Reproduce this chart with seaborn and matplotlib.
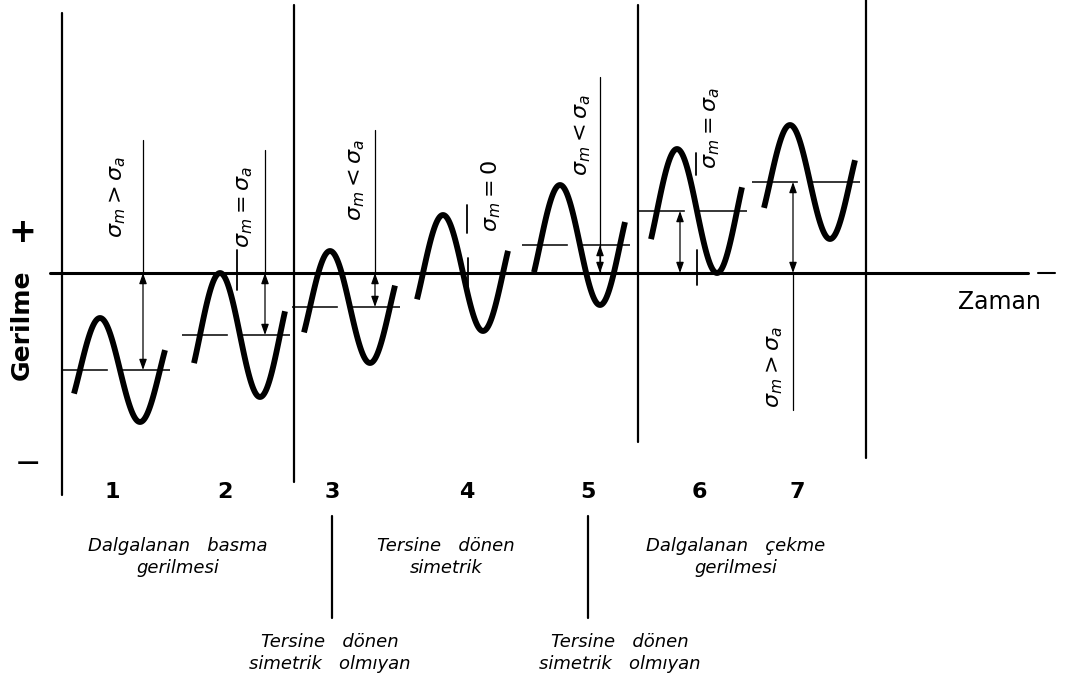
"""
Fluctuating stress cases (Gerilme - Zaman): seven sinusoidal load cycles
with their mean stress sigma_m and amplitude sigma_a.
"""
import matplotlib
matplotlib.use("Agg")
import matplotlib.pyplot as plt
import numpy as np
import pandas as pd
import seaborn as sns

sns.set_theme(style="white")
plt.rcParams["font.family"] = ["DejaVu Sans"]
plt.rcParams["mathtext.fontset"] = "dejavusans"
plt.rcParams["text.color"] = "black"

# ── data (time / stress in drawing units, stress 0 = time axis) ───────────────
case_no   = [1, 2, 3, 4, 5, 6, 7]
peak_t    = [100, 220, 330, 443, 560, 677, 790]   # time of the crest
sigma_m   = [-97, -62, -34, 0, 28, 62, 91]        # mean stress
sigma_a   = [52, 62, 56, 58, 60, 62, 57]          # stress amplitude
period    = 80

case_text = [r"$\sigma_m > \sigma_a$", r"$\sigma_m = \sigma_a$", r"$\sigma_m < \sigma_a$",
             r"$\sigma_m = 0$", r"$\sigma_m < \sigma_a$", r"$\sigma_m = \sigma_a$",
             r"$\sigma_m > \sigma_a$"]
text_t    = [118, 245, 357, 491, 583, 712, 775]
text_s    = [76, 66, 93, 77, 138, 145, -94]

arrow_t   = [143, 265, 375, None, 600, 680, 793]
guide_end = [133, 123, 143, None, 196, None, -137]

# short marks on some cycles
mark_t    = [237, 467, 468, 696, 697]
mark_lo   = [-17, 40, -27, 98, -12]
mark_hi   = [23, 68, 15, 120, 23]

# regime boundaries
divider_t   = [62, 294, 638, 866]
divider_top = [260, 268, 268, 273]
divider_bot = [-222, -209, -169, -185]

group_sep_t = [332, 588]

number_t   = [112, 225, 332, 467, 588, 699, 797]

group_text = ["Dalgalanan   basma\ngerilmesi",
              "Tersine   dönen\nsimetrik",
              "Dalgalanan   çekme\ngerilmesi",
              "Tersine   dönen\nsimetrik   olmıyan",
              "Tersine   dönen\nsimetrik   olmıyan"]
group_t    = [178, 446, 736, 330, 620]
group_s    = [-284, -284, -284, -380, -380]

# ── build curves ──────────────────────────────────────────────────────────────
rows = []
for k, tp, m, a in zip(case_no, peak_t, sigma_m, sigma_a):
    t = np.linspace(tp - 26, tp + period / 2 + 25, 120)
    s = m + a * np.cos(2 * np.pi * (t - tp) / period)
    rows.append(pd.DataFrame({"case": k, "t": t, "stress": s}))
waves = pd.concat(rows, ignore_index=True)

fig = plt.figure(figsize=(10.65, 6.89), dpi=100)
ax = fig.add_axes([0, 0, 1, 1])
ax.set_xlim(0, 1065)
ax.set_ylim(-416, 273)
ax.axis("off")

sns.lineplot(data=waves, x="t", y="stress", units="case", estimator=None,
             sort=False, color="black", lw=4.2, ax=ax, legend=False)
for line in ax.lines:
    line.set_solid_capstyle("butt")

# time axis
ax.plot([50, 1028], [0, 0], color="black", lw=2.2)
ax.plot([1038, 1055], [0, 0], color="black", lw=1.5)

# dividers
for t, top, bot in zip(divider_t, divider_top, divider_bot):
    ax.plot([t, t], [bot, top], color="black", lw=1.6)
for t in group_sep_t:
    ax.plot([t, t], [-243, -345], color="black", lw=1.6)

# mean lines, arrows, guides
for tp, m, ta, g in zip(peak_t, sigma_m, arrow_t, guide_end):
    if m != 0:
        ax.plot([tp - 38, tp + 70], [m, m], color="black", lw=1.1,
                linestyle=(0, (30, 9, 48, 9)))
    if ta is None:
        continue
    ax.annotate("", xy=(ta, m), xytext=(ta, 0),
                arrowprops=dict(arrowstyle="<|-|>,head_length=0.45,head_width=0.16",
                                color="black", lw=0.9, mutation_scale=14,
                                shrinkA=0, shrinkB=0))
    if g is not None:
        ax.plot([ta, ta], [0, g], color="black", lw=0.9)

for t, lo, hi in zip(mark_t, mark_lo, mark_hi):
    ax.plot([t, t], [lo, hi], color="black", lw=1.3)

for s, t, y in zip(case_text, text_t, text_s):
    ax.text(t, y, s, rotation=90, ha="center", va="center", fontsize=16)

# case numbers
for k, t in zip(case_no, number_t):
    ax.text(t, -219, str(k), ha="center", va="center", fontsize=16,
            fontweight="bold")

for s, t, y in zip(group_text, group_t, group_s):
    ax.text(t, y, s, ha="center", va="center", fontsize=13, style="italic",
            linespacing=1.25)

# axis titles
ax.text(22, -52, "Gerilme", rotation=90, ha="center", va="center",
        fontsize=18, fontweight="bold")
ax.text(22, 40, "+", ha="center", va="center", fontsize=24, fontweight="bold")
ax.text(28, -190, "—", ha="center", va="center", fontsize=16, fontweight="bold")
ax.text(958, -29, "Zaman", ha="left", va="center", fontsize=17)

fig.savefig("out.png", dpi=100)
